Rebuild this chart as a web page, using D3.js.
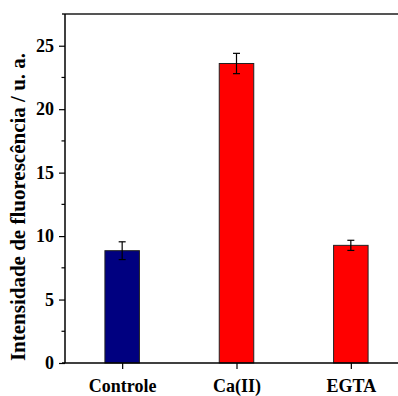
<!DOCTYPE html>
<html>
<head>
<meta charset="utf-8">
<script src="https://cdn.jsdelivr.net/npm/d3@7"></script>
<style>
  html, body { margin: 0; padding: 0; background: #fff; }
  svg { display: block; }
</style>
</head>
<body>
<svg id="chart" width="398" height="396"></svg>
<script>
// Fluorescence intensity per condition
const categories = ["Controle", "Ca(II)", "EGTA"];
const values = [8.85, 23.6, 9.27];
const errors = [0.7, 0.8, 0.4];
const barColors = ["#000080", "#ff0000", "#ff0000"];
const yTicks = [0, 5, 10, 15, 20, 25];
const yMinorTicks = [2.5, 7.5, 12.5, 17.5, 22.5];

const svg = d3.select("#chart");
const plotLeft = 65, plotTop = 14, plotBottom = 363, plotRight = 408;

const x = d3.scalePoint().domain(categories).range([plotLeft, plotRight]).padding(0.5);
const y = d3.scaleLinear().domain([0, 27.5]).range([plotBottom, plotTop]);
const barW = 34.5;

function textStyle(sel, size) {
  sel.attr("font-family", null)
     .style("font-family", '"Liberation Serif"')
     .style("font-weight", "bold")
     .style("font-size", size + "px")
     .style("fill", "#000");
}

// frame top line
svg.append("line")
  .attr("x1", plotLeft - 3).attr("x2", 398)
  .attr("y1", plotTop).attr("y2", plotTop)
  .attr("stroke", "#555").attr("stroke-width", 2);

// bars
svg.append("g").selectAll("rect")
  .data(categories)
  .join("rect")
  .attr("x", d => x(d) - barW / 2)
  .attr("y", (d, i) => y(values[i]))
  .attr("width", barW)
  .attr("height", (d, i) => y(0) - y(values[i]))
  .attr("fill", (d, i) => barColors[i])
  .attr("stroke", "#222")
  .attr("stroke-width", 1);

// error bars
const eg = svg.append("g").attr("stroke", "#000").attr("stroke-width", 1.2);
categories.forEach((c, i) => {
  const cx = x(c);
  const y1 = y(values[i] + errors[i]), y2 = y(values[i] - errors[i]);
  eg.append("line").attr("x1", cx).attr("x2", cx).attr("y1", y1).attr("y2", y2);
  eg.append("line").attr("x1", cx - 3.5).attr("x2", cx + 3.5).attr("y1", y1).attr("y2", y1);
  eg.append("line").attr("x1", cx - 3.5).attr("x2", cx + 3.5).attr("y1", y2).attr("y2", y2);
});

// y axis
const yAxis = svg.append("g")
  .attr("transform", `translate(${plotLeft},0)`)
  .call(d3.axisLeft(y).tickValues(yTicks).tickSize(6).tickPadding(5).tickSizeOuter(0));
yAxis.attr("font-family", null).attr("font-size", null);
yAxis.select(".domain").attr("d", `M0,${plotTop}V${plotBottom}`).attr("stroke", "#000").attr("stroke-width", 1.5);
yAxis.selectAll(".tick line").attr("stroke", "#000").attr("stroke-width", 1.2);
textStyle(yAxis.selectAll("text"), 18);

svg.append("g")
  .attr("transform", `translate(${plotLeft},0)`)
  .selectAll("line")
  .data(yMinorTicks)
  .join("line")
  .attr("x1", -3.5).attr("x2", 0)
  .attr("y1", d => y(d)).attr("y2", d => y(d))
  .attr("stroke", "#000").attr("stroke-width", 1.2);

// x axis
const xAxis = svg.append("g")
  .attr("transform", `translate(0,${plotBottom})`)
  .call(d3.axisBottom(x).tickSize(6).tickPadding(10).tickSizeOuter(0));
xAxis.attr("font-family", null).attr("font-size", null);
xAxis.select(".domain").attr("d", `M${plotLeft - 3},0H${plotRight}`).attr("stroke", "#000").attr("stroke-width", 1.5);
xAxis.selectAll(".tick line").attr("stroke", "#000").attr("stroke-width", 1.2);
textStyle(xAxis.selectAll("text"), 18);

// y axis title
const title = svg.append("text")
  .attr("transform", "translate(25,207) rotate(-90)")
  .attr("text-anchor", "middle")
  .text("Intensidade de fluorescência / u. a.");
textStyle(title, 21);
</script>
</body>
</html>
